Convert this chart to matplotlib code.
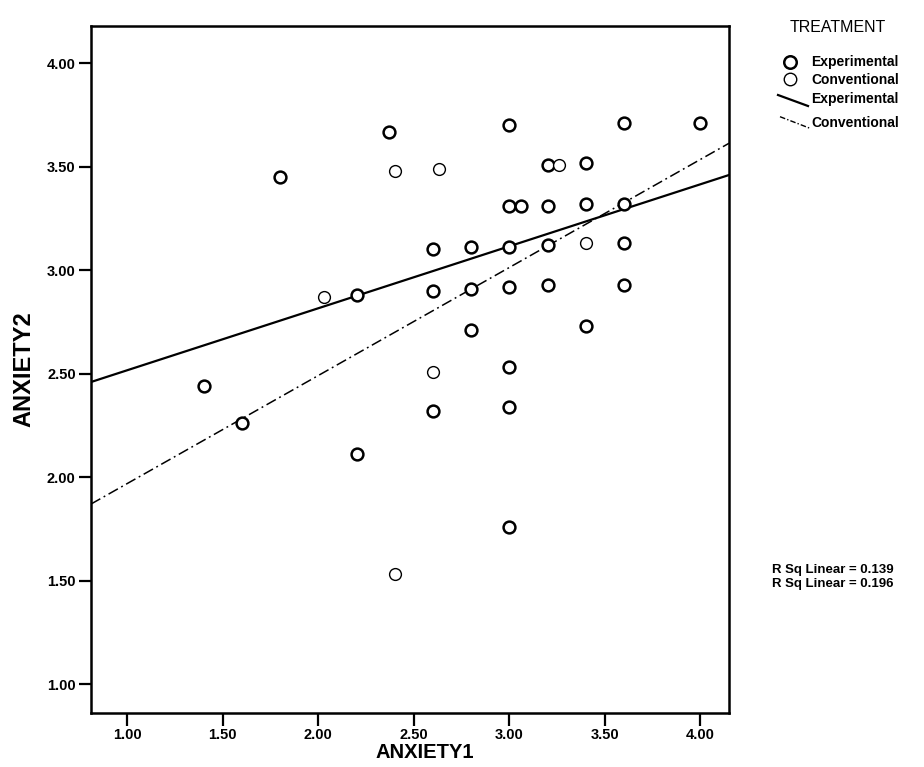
import matplotlib
matplotlib.use("Agg")
import matplotlib.pyplot as plt
from matplotlib.lines import Line2D

plt.rcParams['font.family'] = ['Liberation Sans', 'DejaVu Sans']

# ANXIETY1 / ANXIETY2 scores by treatment group
exp_anxiety1 = [1.40, 1.60, 1.80, 2.20, 2.20, 2.37, 2.60, 2.60, 2.60, 2.80, 2.80, 2.80,
                3.00, 3.00, 3.00, 3.00, 3.00, 3.00, 3.00, 3.06, 3.20, 3.20, 3.20, 3.20,
                3.40, 3.40, 3.40, 3.60, 3.60, 3.60, 3.60, 4.00]
exp_anxiety2 = [2.44, 2.26, 3.45, 2.88, 2.11, 3.67, 3.10, 2.90, 2.32, 3.11, 2.91, 2.71,
                3.70, 3.31, 3.11, 2.92, 2.53, 2.34, 1.76, 3.31, 3.51, 3.31, 3.12, 2.93,
                3.52, 3.32, 2.73, 3.71, 3.32, 3.13, 2.93, 3.71]
conv_anxiety1 = [2.03, 2.40, 2.40, 2.60, 2.63, 3.26, 3.40]
conv_anxiety2 = [2.87, 3.48, 1.53, 2.51, 3.49, 3.51, 3.13]

groups = ["Experimental", "Conventional"]
fit_intercepts = [2.217, 1.447]
fit_slopes = [0.2995, 0.522]
r_squared = [0.139, 0.196]

x_ticks = [1.00, 1.50, 2.00, 2.50, 3.00, 3.50, 4.00]
y_ticks = [1.00, 1.50, 2.00, 2.50, 3.00, 3.50, 4.00]
x_limits = (0.81, 4.15)
y_limits = (0.86, 4.18)

W, H = 924, 767
fig = plt.figure(figsize=(W / 100, H / 100), dpi=100)
ax = fig.add_axes([91 / W, 1 - 713 / H, (729 - 91) / W, (713 - 26) / H])

ax.plot(exp_anxiety1, exp_anxiety2, linestyle='none', marker='o', ms=8.5,
        mfc='white', mec='black', mew=1.8, zorder=3)
ax.plot(conv_anxiety1, conv_anxiety2, linestyle='none', marker='o', ms=8.5,
        mfc='white', mec='black', mew=1.0, zorder=3)

styles = [dict(color='black', lw=1.6, linestyle='-'),
          dict(color='black', lw=1.1, linestyle=(0, (7, 2.5, 1.2, 2.5)))]
for a, b, st in zip(fit_intercepts, fit_slopes, styles):
    xs = list(x_limits)
    ys = [a + b * x for x in xs]
    ax.plot(xs, ys, zorder=2, **st)

ax.set_xlim(*x_limits)
ax.set_ylim(*y_limits)
ax.set_xticks(x_ticks)
ax.set_yticks(y_ticks)
ax.set_xticklabels([f"{v:.2f}" for v in x_ticks])
ax.set_yticklabels([f"{v:.2f}" for v in y_ticks])
ax.tick_params(axis='both', direction='out', length=9, width=1.6, labelsize=10.5,
               pad=2, colors='black')
for lbl in ax.get_xticklabels() + ax.get_yticklabels():
    lbl.set_fontweight('bold')
for sp in ax.spines.values():
    sp.set_linewidth(1.8)
    sp.set_color('black')

ax.set_xlabel("ANXIETY1", fontsize=14.5, fontweight='bold', va='center')
ax.xaxis.set_label_coords(0.523, -0.0575)
ax.set_ylabel("ANXIETY2", fontsize=17, fontweight='bold', labelpad=8)


def fx(px):
    return px / W


def fy(py):
    return 1 - py / H


# Legend block
fig.text(fx(790), fy(28), "TREATMENT", fontsize=11.5, va='center', ha='left')
fig.add_artist(Line2D([fx(790)], [fy(61.7)], marker='o', ms=9, mew=1.8, mfc='white',
                      mec='black', transform=fig.transFigure))
fig.add_artist(Line2D([fx(790)], [fy(79)], marker='o', ms=9, mew=1.0, mfc='white',
                      mec='black', transform=fig.transFigure))
fig.add_artist(Line2D([fx(778), fx(808)], [fy(95), fy(106)], transform=fig.transFigure,
                      **styles[0]))
fig.add_artist(Line2D([fx(780), fx(810)], [fy(116.7), fy(128.3)], transform=fig.transFigure,
                      color='black', lw=1.0, linestyle=(0, (4, 1.5, 1, 1.5))))
for py, name in zip([61.7, 80, 99, 122.7], groups + groups):
    fig.text(fx(811), fy(py), name, fontsize=10, fontweight='bold', va='center', ha='left')

# Fit statistics
for py, r2 in zip([570.5, 584.0], r_squared):
    fig.text(fx(772), fy(py), f"R Sq Linear = {r2:.3f}", fontsize=9.5, fontweight='bold',
             va='center', ha='left')

fig.savefig("out.png", dpi=100, facecolor='white')
